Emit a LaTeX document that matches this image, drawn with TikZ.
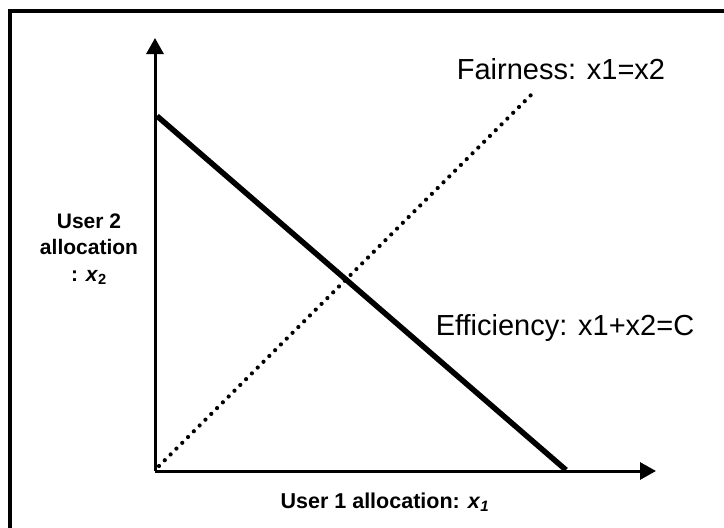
\documentclass[tikz,border=0pt]{standalone}
\usepackage{fontspec}
\setmainfont{Liberation Sans}
\usepackage{tikz}
\usetikzlibrary{positioning,arrows.meta,calc}

\begin{document}
\begin{tikzpicture}[x=1pt,y=-1pt,
  axis/.style={line width=3pt,-{Triangle[length=16pt,width=17pt]}},
  ylab/.style={font=\fontsize{21}{21}\selectfont\bfseries,inner sep=0pt,text height=15pt,text depth=11.5pt},
  lab/.style={font=\fontsize{29}{29}\selectfont,inner sep=0pt,anchor=base}]

  \useasboundingbox (0,0) rectangle (724,528);
  \clip (0,0) rectangle (724,528);
  \draw[line width=4pt] (10,11) rectangle (760,560);

  \coordinate (o) at (155,471);
  \coordinate (ytip) at (155,38);
  \coordinate (xtip) at (656,471);
  \coordinate (e0) at (157,116);
  \coordinate (e1) at (566,470);
  \coordinate (f0) at (159,466);
  \coordinate (f1) at (534,92);

  \draw[axis] (o)--(ytip);
  \draw[axis] (o)--(xtip);

  \draw[line width=5.5pt] (e0)--(e1);
  \draw[line width=4.2pt,line cap=round,dash pattern=on 0pt off 8.2pt] (f0)--(f1);

  \node[lab] (fair) at (561,79) {Fairness: x1=x2};
  \node[lab] (eff) at (565,335) {Efficiency: x1+x2=C};

  \node[ylab,anchor=base] (u2) at (89,228) {User 2};
  \node[ylab] (u2a) [below=0pt of u2] {allocation};
  \node[ylab] (u2x) [below=0pt of u2a] {: \textit{x}\textsubscript{2}};

  \node[ylab,anchor=base,font=\fontsize{21.5}{21.5}\selectfont\bfseries] (u1) at (385,508) {User 1 allocation: \textit{x}\textsubscript{\textit{1}}};

\end{tikzpicture}
\end{document}
